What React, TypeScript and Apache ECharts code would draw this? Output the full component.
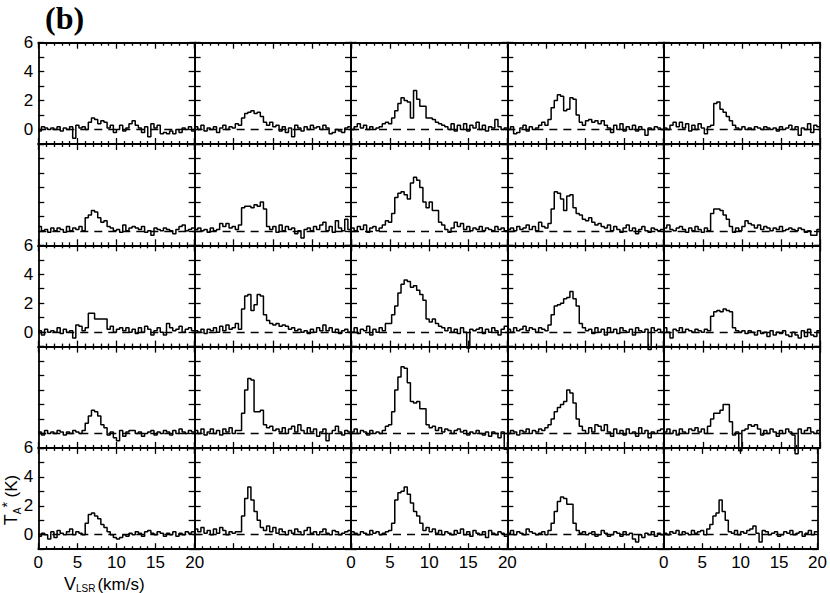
import React, { useEffect, useRef } from 'react';
import * as echarts from 'echarts';

// Channel grid (km/s)
const V_START = 0;
const DV = 0.4;
const V_END = 20;

// Tick labels
const xTickLabels = ['0', '5', '10', '15', '20'];
const yTickLabels = ['0', '2', '4', '6'];

// Spectra T_A* (K), 50 channels of 0.4 km/s from 0 to 20 km/s; rows top->bottom, cols left->right
const s11 = [-0.1,0.2,0.1,0.0,0.1,0.0,0.2,-0.1,0.1,0.0, 0.2,-0.6,0.3,0.1,0.2,0.0,0.5,0.8,0.7,0.4, 0.6,0.5,0.1,0.3,-0.2,0.0,0.3,-0.1,0.1,0.4, 0.6,0.3,0.1,-0.2,0.2,-0.5,0.4,0.1,0.3,-0.3, -0.2,-0.3,-0.1,-0.3,0.0,-0.2,0.1,0.0,0.2,-0.1];
const s12 = [0.2,0.0,0.3,-0.1,0.1,0.0,0.2,-0.2,0.1,0.3, 0.0,0.2,0.1,0.4,0.3,0.8,1.1,1.2,1.3,1.1, 1.2,0.9,0.5,0.3,0.5,0.2,0.3,-0.1,0.2,-0.2, 0.1,-0.5,0.3,0.1,-0.1,0.2,0.0,0.3,0.1,0.2, 0.0,0.3,0.1,-0.3,-0.2,0.0,-0.1,-0.2,0.1,0.2];
const s13 = [0.0,0.2,0.4,0.1,0.3,0.0,0.2,0.0,0.1,0.2, 0.4,0.5,0.4,0.8,1.3,1.8,2.2,2.0,1.9,0.8, 2.7,2.1,1.6,1.6,0.8,0.8,0.7,0.5,0.4,0.3, 0.2,0.0,0.4,-0.1,0.3,0.0,0.4,-0.1,0.3,0.1, 0.5,0.0,0.3,-0.1,0.2,0.1,0.7,0.2,0.0,0.1];
const s14 = [0.0,0.2,-0.3,-0.2,0.1,0.3,-0.1,0.2,0.0,0.1, 0.3,0.5,0.3,0.7,1.5,2.0,2.4,2.3,1.3,1.4, 2.2,2.1,1.0,0.5,0.3,0.6,0.7,0.5,0.6,0.4, 0.6,0.3,0.1,-0.2,0.3,0.0,0.4,-0.1,0.2,0.0, 0.3,-0.1,0.2,0.0,-0.4,0.1,0.0,0.2,0.1,0.0];
const s15 = [0.1,0.0,0.3,0.5,0.2,0.5,0.1,0.4,-0.1,0.3, 0.0,0.4,0.1,-0.3,0.2,0.3,1.8,1.9,1.4,1.2, 0.9,0.6,0.3,0.1,0.0,0.2,0.0,0.1,0.0,0.2, 0.1,0.0,0.2,0.1,0.0,0.1,-0.1,0.2,0.0,0.1, 0.3,0.0,0.2,-0.4,0.1,0.0,0.4,-0.2,0.3,0.2];

const s21 = [0.3,0.0,0.1,-0.1,0.2,0.0,0.2,0.1,-0.1,0.3, 0.0,0.2,0.1,0.3,0.0,0.9,1.1,1.4,1.3,0.9, 0.6,0.7,0.3,0.2,0.0,0.1,-0.1,0.4,0.0,0.2, 0.3,0.2,0.1,0.3,-0.1,0.0,-0.3,0.2,0.1,0.0, 0.2,0.1,0.0,-0.2,0.1,0.3,0.4,0.0,0.1,0.2];
const s22 = [0.1,0.2,0.0,0.1,-0.1,0.2,0.0,0.1,0.5,0.3, 0.5,0.2,0.3,0.1,0.4,1.6,1.7,1.7,1.6,1.8, 1.7,2.0,1.5,0.3,0.1,0.3,-0.1,0.4,0.0,0.3, 0.1,0.2,-0.2,0.0,-0.5,0.1,0.2,0.0,0.3,0.1, 0.4,0.6,0.0,0.3,-0.1,0.7,0.2,0.0,0.8,0.1];
const s23 = [0.2,0.0,0.3,0.1,0.4,-0.1,0.2,0.3,0.0,0.2, 0.4,0.7,0.6,1.2,2.3,2.6,2.7,2.5,2.2,3.3, 3.7,3.5,3.0,2.0,1.6,2.0,1.4,1.4,0.6,0.4, 0.1,-0.1,0.2,0.6,0.3,0.5,0.1,0.3,0.0,0.2, 0.1,0.3,0.0,0.2,0.1,0.0,0.3,0.1,0.2,0.0];
const s24 = [0.1,0.2,0.0,0.3,0.1,0.2,0.4,0.1,0.3,0.0, 0.6,0.3,0.2,0.5,1.5,2.7,2.6,2.2,1.4,2.4, 2.5,1.6,1.2,1.1,0.8,0.7,0.9,0.6,0.4,0.5, 0.3,0.2,0.4,0.0,0.3,0.1,-0.1,0.2,0.4,0.0, 0.2,-0.2,0.1,0.3,0.0,-0.1,0.2,0.1,0.0,0.1];
const s25 = [0.2,0.4,0.1,0.0,0.2,0.3,0.1,-0.1,0.2,0.0, 0.3,0.1,-0.1,0.2,0.0,1.2,1.5,1.5,1.4,1.1, 0.8,0.3,-0.1,0.2,0.0,0.3,0.7,0.5,0.4,0.2, 0.4,0.1,0.3,0.2,0.0,0.2,0.1,0.3,0.0,0.1, 0.2,0.1,0.0,0.2,0.1,-0.1,0.0,-0.3,-0.3,0.1];

const s31 = [0.1,-0.2,0.2,0.0,0.1,0.0,0.3,-0.1,0.2,0.0, 0.1,-0.4,0.5,0.4,0.1,0.3,1.3,1.3,0.9,0.9, 0.9,0.9,0.2,0.4,0.0,0.2,0.3,0.1,0.3,0.0, 0.2,-0.1,0.3,0.0,0.4,0.2,-0.2,0.1,0.3,0.0, -0.2,0.6,0.3,0.1,0.2,0.4,0.0,0.2,0.3,0.1];
const s32 = [0.1,0.0,0.2,-0.1,0.2,0.1,0.3,0.0,0.4,0.1, 0.5,0.2,0.3,0.6,0.2,1.6,2.5,2.6,1.5,1.9, 2.6,2.5,1.2,0.8,0.6,0.5,0.6,0.4,0.5,0.4, 0.2,0.3,0.1,0.2,0.0,0.1,-0.1,0.2,0.0,0.3, 0.1,0.5,0.1,0.3,0.0,0.2,-0.1,0.1,0.2,0.0];
const s33 = [0.0,0.3,-0.1,0.2,0.1,0.4,-0.2,0.2,0.0,0.3, 0.1,0.6,0.6,1.2,1.8,2.7,3.3,3.6,3.5,3.1, 3.2,2.9,2.6,2.2,0.9,0.7,0.9,0.6,0.4,0.3, 0.1,0.3,0.0,0.2,-0.1,0.3,0.0,-1.1,0.2,0.1, 0.2,0.3,-0.1,0.2,0.0,0.3,0.1,-0.2,0.2,0.4];
const s34 = [0.2,0.0,0.3,0.1,0.2,0.4,0.1,0.3,0.2,0.0, 0.3,0.2,0.1,0.5,1.2,1.8,1.9,2.0,2.3,2.4, 2.8,2.3,1.8,0.6,0.3,0.1,0.2,-0.1,0.3,0.0, 0.2,-0.2,0.3,0.0,0.2,-0.1,0.3,0.1,0.0,0.2, -0.2,0.3,0.1,0.0,0.2,-1.2,0.3,0.1,0.2,0.0];
const s35 = [0.3,0.0,-0.4,0.2,0.1,0.3,0.0,0.2,0.1,0.0, 0.2,0.1,0.0,0.2,0.1,1.1,1.4,1.5,1.4,1.6, 1.5,1.4,0.3,0.1,0.0,0.1,-0.1,0.1,0.0,-0.2, 0.1,-0.1,0.0,-0.3,0.1,-0.2,0.0,-0.1,0.1,-0.2, -0.3,0.0,-0.2,-0.4,0.1,-0.3,0.2,-0.2,-0.3,0.1];

const s41 = [0.1,-0.1,0.2,0.0,0.1,0.0,0.2,0.1,-0.1,0.1, 0.0,0.2,0.1,0.0,0.2,0.7,1.2,1.6,1.5,1.2, 0.6,0.4,-0.1,0.1,-0.3,-0.5,0.2,-0.2,0.1,0.2, 0.2,0.0,0.1,-0.2,0.0,0.1,0.2,-0.1,0.1,0.0, 0.2,0.1,-0.1,0.2,0.0,0.3,0.1,0.0,0.2,0.1];
const s42 = [0.2,0.0,0.3,-0.1,0.1,0.3,0.0,0.2,-0.1,0.3, 0.1,0.4,0.0,0.2,0.2,1.4,3.0,3.8,3.7,1.5, 1.5,1.6,0.6,0.4,0.5,0.2,0.3,0.1,0.4,0.0, 0.3,0.5,0.1,0.6,0.2,0.0,0.4,0.1,0.3,-0.2, 0.1,0.3,-0.5,0.0,0.2,0.5,0.1,-0.1,0.2,0.1];
const s43 = [0.1,0.3,0.0,0.2,0.1,-0.1,0.2,0.0,0.1,0.0, 0.2,0.5,0.6,1.5,3.0,3.9,4.6,4.5,3.5,2.2, 2.1,2.2,1.7,1.7,0.6,0.4,0.5,0.2,0.4,0.1, 0.3,0.2,0.0,0.2,0.3,0.1,0.2,-0.1,0.1,0.0, 0.2,0.0,-0.1,0.1,-0.2,0.1,0.0,-0.3,0.1,-1.1];
const s44 = [0.0,0.2,0.1,-0.1,0.2,0.1,0.3,0.0,0.2,0.1, 0.3,0.2,0.4,0.6,1.0,1.5,1.8,2.0,2.2,3.0, 2.8,2.1,1.0,0.5,0.2,0.0,0.4,0.1,0.6,0.5, 0.2,0.6,0.1,-0.2,0.3,0.0,0.2,-0.1,0.3,0.0, 0.1,-0.2,0.4,0.0,0.2,-0.3,0.1,0.0,0.2,0.3];
const s45 = [0.1,0.3,0.0,0.2,-0.1,0.3,0.1,0.0,0.3,0.2, 0.4,0.1,0.3,0.0,0.5,1.0,1.4,1.4,1.6,2.0, 2.0,0.8,-0.1,0.1,-1.2,0.2,0.3,0.6,0.5,0.6, 0.3,-0.1,0.2,0.0,0.3,0.1,-0.2,0.2,0.0,0.3, 0.1,-0.1,-1.4,0.3,0.0,0.2,0.4,0.1,0.0,0.2];

const s51 = [-0.1,0.1,0.0,-0.3,0.2,-0.2,0.3,0.1,0.0,0.2, 0.4,0.0,0.2,0.1,0.0,0.8,1.4,1.5,1.3,1.1, 0.7,0.5,0.2,0.0,-0.2,-0.3,-0.2,0.0,-0.1,0.1, 0.0,0.2,0.1,-0.1,0.2,0.3,0.1,0.0,0.2,0.1, -0.1,0.1,0.0,0.2,-0.1,0.1,0.0,0.2,0.1,0.2];
const s52 = [0.4,0.2,0.5,0.1,0.3,0.0,0.4,0.1,0.5,0.3, 0.0,0.2,0.1,0.2,0.2,1.3,2.5,3.3,2.4,1.6, 1.0,0.5,0.3,0.6,0.2,0.5,0.1,0.4,0.2,0.0, 0.3,0.1,0.4,0.2,0.0,0.3,0.5,0.1,0.2,0.0, 0.2,0.4,0.1,0.0,0.3,0.2,0.0,0.1,0.2,0.3];
const s53 = [0.2,0.1,0.0,0.2,0.1,0.0,0.3,0.1,0.2,0.0, 0.1,0.2,0.3,0.8,2.4,2.9,3.0,3.3,2.8,2.2, 1.6,1.3,0.8,0.3,0.5,0.2,0.4,0.1,0.3,0.0, 0.2,0.1,0.0,0.3,0.1,0.4,0.0,0.2,-0.1,0.3, 0.1,0.0,0.2,-0.2,0.3,0.1,0.0,0.2,0.1,-0.1];
const s54 = [0.1,0.3,0.0,0.2,0.1,0.0,0.4,0.2,0.1,0.0, 0.1,0.2,0.0,0.3,0.8,1.6,2.3,2.6,2.5,2.1, 2.1,0.8,0.3,0.1,0.2,0.0,0.1,0.2,-0.1,0.0, 0.3,0.1,-0.1,0.0,0.2,0.1,-0.1,0.2,0.0,0.1, -0.3,-0.5,0.0,-0.2,0.1,0.0,0.2,-0.1,0.1,0.0];
const s55 = [0.1,0.0,0.2,0.1,0.3,0.0,0.2,0.1,0.0,0.3, 0.1,0.2,0.3,0.0,0.4,0.7,1.3,1.5,2.4,1.6, 1.0,0.2,0.1,0.3,0.0,0.2,0.1,0.3,0.4,0.6, 0.1,-0.5,0.3,0.2,0.0,0.1,0.2,-0.1,0.0,0.2, 0.1,0.3,0.0,0.1,0.2,-0.1,0.1,0.3,0.0,0.2];

const spectra = [
  [s11, s12, s13, s14, s15],
  [s21, s22, s23, s24, s25],
  [s31, s32, s33, s34, s35],
  [s41, s42, s43, s44, s45],
  [s51, s52, s53, s54, s55],
];

// Layout (px)
const LEFT = 38.3;
const TOP = 42.7;
const PW = 156.35;
const PH = 101.3;

const FONT = "'Liberation Sans', Arial, sans-serif";
const SERIF = "'Liberation Serif', 'Times New Roman', serif";

export default function App() {
  const ref = useRef<HTMLDivElement>(null);

  useEffect(() => {
    const chart = echarts.init(ref.current as HTMLDivElement, null, { renderer: 'svg' });
    const grid: any[] = [];
    const xAxis: any[] = [];
    const yAxis: any[] = [];
    const series: any[] = [];
    const lineCol = '#000';

    for (let r = 0; r < 5; r++) {
      for (let c = 0; c < 5; c++) {
        const k = r * 5 + c;
        grid.push({ left: LEFT + c * PW, top: TOP + r * PH, width: PW, height: PH, containLabel: false });
        const showX = r === 4 && c % 2 === 0;
        const showY = c === 0 && r % 2 === 0;
        const commonX = {
          type: 'value', gridIndex: k, min: V_START, max: V_END, interval: 5,
          axisLine: { show: true, onZero: false, lineStyle: { color: lineCol, width: 1.8 } },
          axisTick: { show: true, inside: true, length: 6, lineStyle: { color: lineCol, width: 1.3 } },
          minorTick: { show: true, splitNumber: 5, length: 3, lineStyle: { color: lineCol, width: 1.3 } },
          splitLine: { show: false }, minorSplitLine: { show: false },
        };
        xAxis.push({
          ...commonX, position: 'bottom',
          axisLabel: {
            show: showX, margin: 5, fontSize: 17, color: '#000', fontFamily: FONT,
            showMinLabel: true, showMaxLabel: true,
            formatter: (v: number) => (xTickLabels.includes(String(v)) ? String(v) : ''),
          },
        });
        xAxis.push({ ...commonX, position: 'top', axisLabel: { show: false } });
        const commonY = {
          type: 'value', gridIndex: k, min: -1, max: 6, interval: 1,
          axisLine: { show: true, onZero: false, lineStyle: { color: lineCol, width: 1.8 } },
          axisTick: { show: true, inside: true, length: 6, lineStyle: { color: lineCol, width: 1.3 } },
          splitLine: { show: false },
        };
        yAxis.push({
          ...commonY, position: 'left',
          axisLabel: {
            show: showY, margin: 5, fontSize: 17, color: '#000', fontFamily: FONT,
            showMinLabel: true, showMaxLabel: true,
            formatter: (v: number) => (yTickLabels.includes(String(v)) ? String(v) : ''),
          },
        });
        yAxis.push({ ...commonY, position: 'right', axisLabel: { show: false } });

        const spec = spectra[r][c];
        const data = spec.map((y, i) => [V_START + i * DV, y]);
        data.push([V_END, spec[spec.length - 1]]);
        series.push({
          type: 'line', xAxisIndex: 2 * k, yAxisIndex: 2 * k, step: 'end', symbol: 'none',
          clip: false, silent: true, z: 3,
          lineStyle: { color: '#000', width: 1.5 },
          data,
          markLine: {
            silent: true, symbol: ['none', 'none'], animation: false,
            label: { show: false },
            lineStyle: { color: '#000', width: 1.3, type: [8, 6] },
            data: [{ yAxis: 0 }],
          },
        });
      }
    }

    chart.setOption({
      animation: false,
      backgroundColor: '#fff',
      grid, xAxis, yAxis, series,
      graphic: [
        {
          type: 'text', left: 45, top: 2,
          style: { text: '(b)', fontSize: 32, fontWeight: 'bold', fontFamily: SERIF, fill: '#000' },
        },
        {
          type: 'text', x: 11, y: 500, rotation: Math.PI / 2,
          style: {
            text: '{t|T}{s|A}{u|*}{n| (K)}',
            align: 'center', verticalAlign: 'middle', fill: '#000',
            rich: {
              t: { fontSize: 18, fontFamily: FONT, lineHeight: 22, verticalAlign: 'middle' },
              s: { fontSize: 10, fontFamily: FONT, lineHeight: 22, verticalAlign: 'bottom' },
              u: { fontSize: 14, fontFamily: FONT, lineHeight: 22, verticalAlign: 'top' },
              n: { fontSize: 17, fontFamily: FONT, lineHeight: 22, verticalAlign: 'middle' },
            },
          },
        },
        {
          type: 'text', left: 64, top: 575,
          style: {
            text: '{v|V}{s|LSR}{n|(km/s)}',
            fill: '#000',
            rich: {
              v: { fontSize: 18, fontFamily: FONT, lineHeight: 18, verticalAlign: 'middle' },
              s: { fontSize: 10, fontFamily: FONT, lineHeight: 18, verticalAlign: 'bottom', padding: [0, 2, 0, 0] },
              n: { fontSize: 17, fontFamily: FONT, lineHeight: 18, verticalAlign: 'middle' },
            },
          },
        },
      ],
    });

    return () => {
      chart.dispose();
    };
  }, []);

  return (
    <div
      ref={ref}
      style={{ position: 'absolute', left: 0, top: 0, width: 830, height: 593, background: '#fff' }}
    />
  );
}
